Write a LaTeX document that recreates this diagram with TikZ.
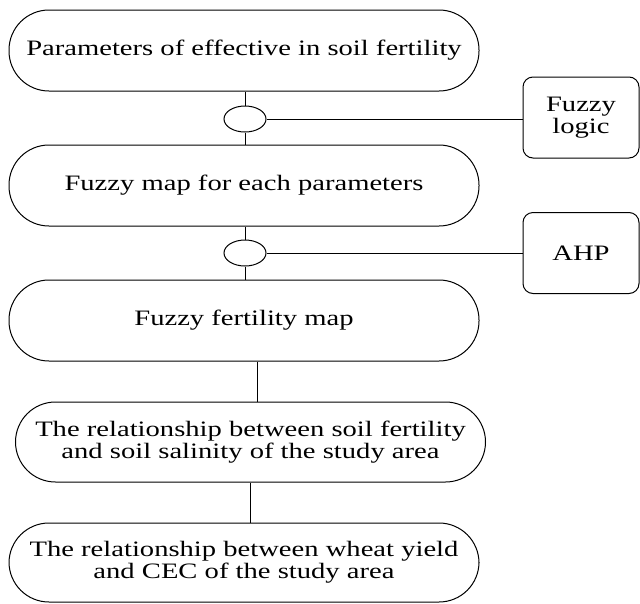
\documentclass[tikz,border=0pt]{standalone}
\usepackage{fontspec}
\setmainfont{Liberation Serif}
\usetikzlibrary{shapes.geometric}
\newcommand\sx[1]{\scalebox{1.3}[1]{#1}}
\tikzset{
  every node/.style={font=\fontsize{22}{22}\selectfont},
  stad/.style={draw, line width=1pt, rounded corners=40pt, minimum width=470pt, minimum height=81pt, inner sep=0pt, align=center},
  sidebox/.style={draw, line width=1pt, rounded corners=10pt, minimum width=116pt, minimum height=81pt, inner sep=0pt, align=center},
  joint/.style={draw, line width=1pt, ellipse, minimum width=42pt, minimum height=26pt, inner sep=0pt},
  conn/.style={line width=1pt}
}
\begin{document}
\begin{tikzpicture}[x=1pt,y=-1pt]
\useasboundingbox (0,0) rectangle (640,603);
\node[stad] (A) at (244,50.5) {\sx{Parameters of effective in soil fertility}};
\node[joint] (c1) at (245,119) {};
\node[sidebox] (F) at (581,117.5) {\sx{Fuzzy}\\\sx{logic}};
\node[stad] (B) at (244,185.5) {\sx{Fuzzy map for each parameters}};
\node[joint] (c2) at (245,253) {};
\node[sidebox] (H) at (581,253) {\sx{AHP}};
\node[stad] (C) at (244,320.5) {\sx{Fuzzy fertility map}};
\node[stad, minimum height=80pt] (D) at (250.5,442) {\sx{The relationship between soil fertility}\\\sx{and soil salinity of the study area}};
\node[stad, minimum height=79pt] (E) at (244,562.5) {\sx{The relationship between wheat yield}\\\sx{and CEC of the study area}};
\draw[conn] (c1.north) -- (c1.north |- A.south);
\draw[conn] (c1.south) -- (c1.south |- B.north);
\draw[conn] (c1.east) -- (c1.east -| F.west);
\draw[conn] (c2.north) -- (c2.north |- B.south);
\draw[conn] (c2.south) -- (c2.south |- C.north);
\draw[conn] (c2.east) -- (c2.east -| H.west);
\draw[conn] ([xshift=13pt]C.south) -- ([xshift=13pt]C.south |- D.north);
\draw[conn] (D.south) -- (D.south |- E.north);
\end{tikzpicture}
\end{document}
